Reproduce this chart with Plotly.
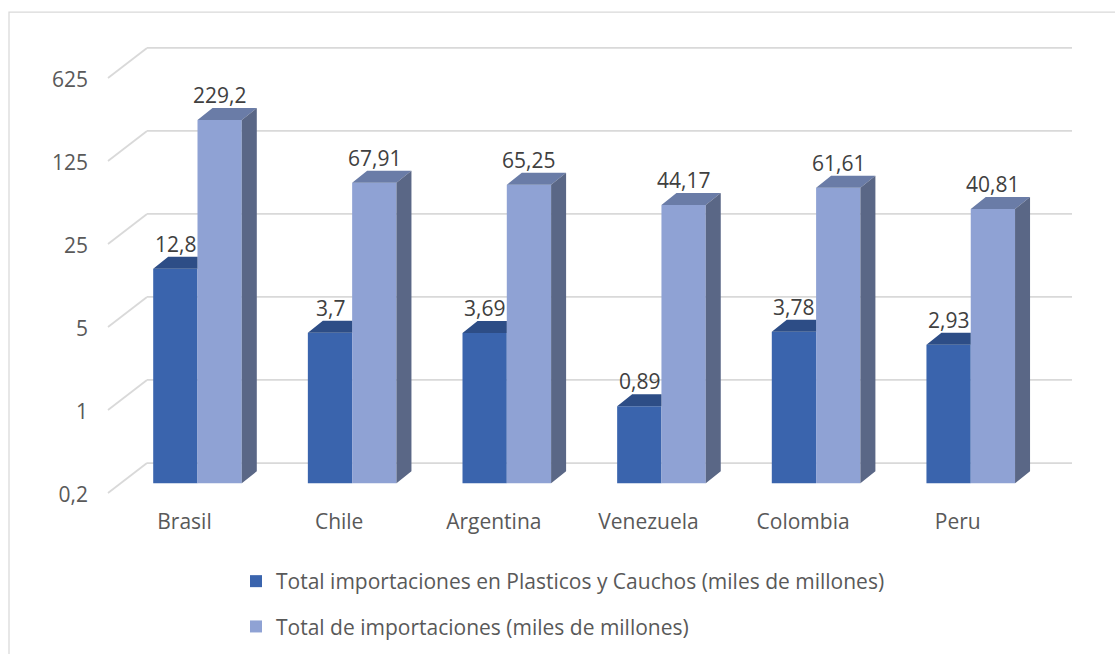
import numpy as np
import plotly.graph_objects as go

# ---------------- data ----------------
categories = ["Brasil", "Chile", "Argentina", "Venezuela", "Colombia", "Peru"]
plasticos = [12.8, 3.7, 3.69, 0.89, 3.78, 2.93]
totales = [229.2, 67.91, 65.25, 44.17, 61.61, 40.81]
tick_vals = [0.2, 1, 5, 25, 125, 625]
tick_text = ["0,2", "1", "5", "25", "125", "625"]
name_plasticos = "Total importaciones en Plasticos y Cauchos (miles de millones)"
name_totales = "Total de importaciones (miles de millones)"

# ---------------- layout geometry ----------------
W, H = 1115, 654
L, T, B = 95, 0, 500          # plot-area box in pixels
PX_CAT = 154.65               # pixels per category
X0_PX = 197.5                 # pixel of first category centre
PPD = 118.75                  # pixels per decade
Y0_PX = 483.3                 # pixel of base value on bar front plane
BASE = 0.2

lb = np.log10(BASE)
x_range = [(L - X0_PX) / PX_CAT, (W - X0_PX) / PX_CAT]
y_range = [lb - (B - Y0_PX) / PPD, lb + (Y0_PX - T) / PPD]


def val_px(v):
    return Y0_PX - (np.log10(v) - lb) * PPD


def xpaper(px):
    return (px - L) / (W - L)


def ypaper(px):
    return (B - px) / (B - T)


bw = 44.3 / PX_CAT            # bar width in x units
dx = 15 / PX_CAT              # 3D depth (x)
fy = 10 ** (12 / PPD)         # 3D depth (y, multiplicative on log axis)

C_DARK = "#3A64AD"
C_LIGHT = "#8FA2D4"
C_DARK_TOP = "#2D4D86"
C_LIGHT_TOP = "#6A7CA7"
C_LIGHT_SIDE = "#5A6786"
GRID = "#D9D9D9"
TXT = "#595959"
FONT = "Open Sans"
FS = 21

fig = go.Figure()

xs = list(range(len(categories)))

fig.add_trace(go.Bar(
    x=xs, y=[v - BASE for v in plasticos], base=BASE, offset=-bw, width=bw,
    marker=dict(color=C_DARK, line=dict(width=0)), name=name_plasticos,
    legendgroup="a", hoverinfo="skip"))
fig.add_trace(go.Bar(
    x=xs, y=[v - BASE for v in totales], base=BASE, offset=0, width=bw,
    marker=dict(color=C_LIGHT, line=dict(width=0)), name=name_totales,
    legendgroup="b", hoverinfo="skip"))

# 3D faces
dt_x, dt_y, lt_x, lt_y, ls_x, ls_y = [], [], [], [], [], []
for i, (d, t) in enumerate(zip(plasticos, totales)):
    xl, xr = i - bw, i
    dt_x += [xl, xr, xr, xl + dx, xl, None]
    dt_y += [d, d, d * fy, d * fy, d, None]
    xl, xr = i, i + bw
    lt_x += [xl, xr, xr + dx, xl + dx, xl, None]
    lt_y += [t, t, t * fy, t * fy, t, None]
    ls_x += [xr, xr, xr + dx, xr + dx, xr, None]
    ls_y += [BASE, t, t * fy, BASE * fy, BASE, None]

for fx, fyy, col in [(dt_x, dt_y, C_DARK_TOP), (lt_x, lt_y, C_LIGHT_TOP), (ls_x, ls_y, C_LIGHT_SIDE)]:
    fig.add_trace(go.Scatter(x=fx, y=fyy, mode="lines", fill="toself", fillcolor=col,
                             line=dict(width=0, color=col), showlegend=False, hoverinfo="skip"))

# data labels
annotations = []
for i, (d, t) in enumerate(zip(plasticos, totales)):
    for xv, v in [(i - bw / 2, d), (i + bw / 2, t)]:
        annotations.append(dict(x=xv, y=np.log10(v), xref="x", yref="y", yshift=25,
                                text=f"{v:g}".replace(".", ","), showarrow=False,
                                yanchor="middle", font=dict(family=FONT, size=FS, color="#404040")))

# walls / gridlines (back wall + side wall)
shapes = []
for v in tick_vals:
    yb = val_px(v) - 20.3
    yf = val_px(v) + 9.7
    shapes.append(dict(type="line", xref="paper", yref="paper", layer="below",
                       x0=xpaper(147), x1=xpaper(1072), y0=ypaper(yb), y1=ypaper(yb),
                       line=dict(color=GRID, width=1.75)))
    shapes.append(dict(type="line", xref="paper", yref="paper", layer="below",
                       x0=xpaper(108), x1=xpaper(147), y0=ypaper(yf), y1=ypaper(yb),
                       line=dict(color=GRID, width=1.75)))
# chart border
shapes.append(dict(type="rect", xref="paper", yref="paper", layer="below",
                   x0=xpaper(9), x1=xpaper(1125), y0=ypaper(12), y1=ypaper(664),
                   line=dict(color=GRID, width=1.25), fillcolor="rgba(0,0,0,0)"))

fig.update_layout(
    width=W, height=H,
    margin=dict(l=L, r=0, t=T, b=H - B, pad=0),
    plot_bgcolor="white", paper_bgcolor="white",
    barmode="overlay",
    font=dict(family=FONT, size=FS, color=TXT),
    showlegend=True,
    legend=dict(x=xpaper(236), y=ypaper(561), xanchor="left", yanchor="top",
                orientation="v", tracegroupgap=15, font=dict(family=FONT, size=FS, color=TXT),
                bgcolor="rgba(0,0,0,0)", itemclick=False, itemdoubleclick=False),
    shapes=shapes,
    annotations=annotations,
    xaxis=dict(range=x_range, tickmode="array", tickvals=xs, ticktext=categories,
               showgrid=False, zeroline=False, showline=False, ticks="",
               ticklabelshift=-13, ticklabelstandoff=7, fixedrange=True),
    yaxis=dict(type="log", range=y_range, tickmode="array", tickvals=tick_vals, ticktext=tick_text,
               showgrid=False, zeroline=False, showline=False, ticks="",
               ticklabelshift=11, ticklabelstandoff=6, fixedrange=True),
)

fig.write_html("out.html")
